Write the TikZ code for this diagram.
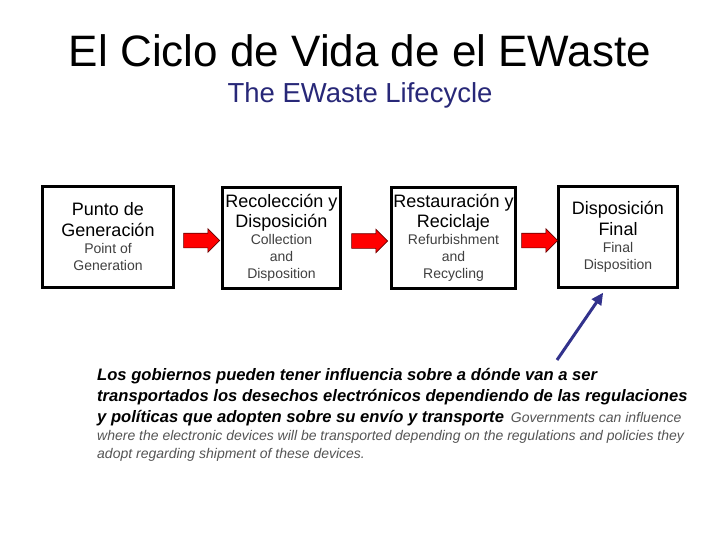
\documentclass[tikz,border=0pt]{standalone}
\usepackage{fontspec}
\setmainfont{Liberation Sans}
\usetikzlibrary{arrows.meta,shapes.arrows,calc}

\definecolor{navy}{RGB}{40,40,120}
\definecolor{engray}{RGB}{64,64,64}
\definecolor{notegray}{RGB}{85,85,85}
\definecolor{govblue}{RGB}{50,50,140}
\newcommand{\es}[1]{{\fontsize{18}{22}\selectfont\color{black}#1}}
\newcommand{\gov}[1]{{\fontsize{16.6}{21}\selectfont\bfseries\color{black}#1}}

\begin{document}
\begin{tikzpicture}[x=1pt,y=-1pt]
      \useasboundingbox[fill=white] (0,0) rectangle (720,540);
      \node[font=\fontsize{44}{52}\selectfont] (title) at (360,51) {El Ciclo de Vida de el EWaste};
      \node[font=\fontsize{27.5}{32}\selectfont,text=navy] (subtitle) at (360,95) {The EWaste Lifecycle};
      \begin{scope}[every node/.style={draw=black,line width=3pt,align=center,inner sep=0pt,
          minimum height=100pt,text=engray,font=\fontsize{14}{17}\selectfont}]
        \node[minimum width=131pt] (pg) at (108,237) {\es{Punto de}\\[4pt]\es{Generación}\\Point of\\Generation};
        \node[minimum width=118pt] (rd) at (281.5,238) {\es{Recolección y}\\[3pt]\es{Disposición}\\Collection\\and\\Disposition};
        \node[minimum width=124pt] (rr) at (453.5,238) {\es{Restauración y}\\[3pt]\es{Reciclaje}\\Refurbishment\\and\\Recycling};
        \node[minimum width=119pt] (df) at (618,237) {\es{Disposición}\\[4pt]\es{Final}\\Final\\Disposition};
      \end{scope}
      \begin{scope}[every node/.style={single arrow,draw=red!40!black,fill=red,line width=0.6pt,
          inner sep=0pt,inner ysep=7pt,minimum height=36pt,single arrow head extend=4.5pt}]
        \node (a1) at ($(pg.east)!0.5!(rd.west)+(0,3)$) {};
        \node (a2) at ($(rd.east)!0.5!(rr.west)+(0,3)$) {};
        \node (a3) at ($(rr.east)!0.5!(df.west)+(-1,3)$) {};
      \end{scope}
      \node[anchor=north west,align=left,inner sep=0pt,text=notegray,
          font=\fontsize{14}{18}\selectfont\itshape] (note) at (97,368)
          {\gov{Los gobiernos pueden tener influencia sobre a dónde van a ser}\\[3pt]
           \gov{transportados los desechos electrónicos dependiendo de las regulaciones}\\[3pt]
           \gov{y políticas que adopten sobre su envío y transporte}\enspace Governments can influence\\
           where the electronic devices will be transported depending on the regulations and policies they\\
           adopt regarding shipment of these devices.};
      \coordinate (src) at (557,360);
      \draw[draw=govblue,line width=3pt,-{Triangle[length=12pt,width=11pt]},shorten >=5pt]
        (src) -- ($(df.south)+(-12,0)$);
    \end{tikzpicture}
\end{document}
